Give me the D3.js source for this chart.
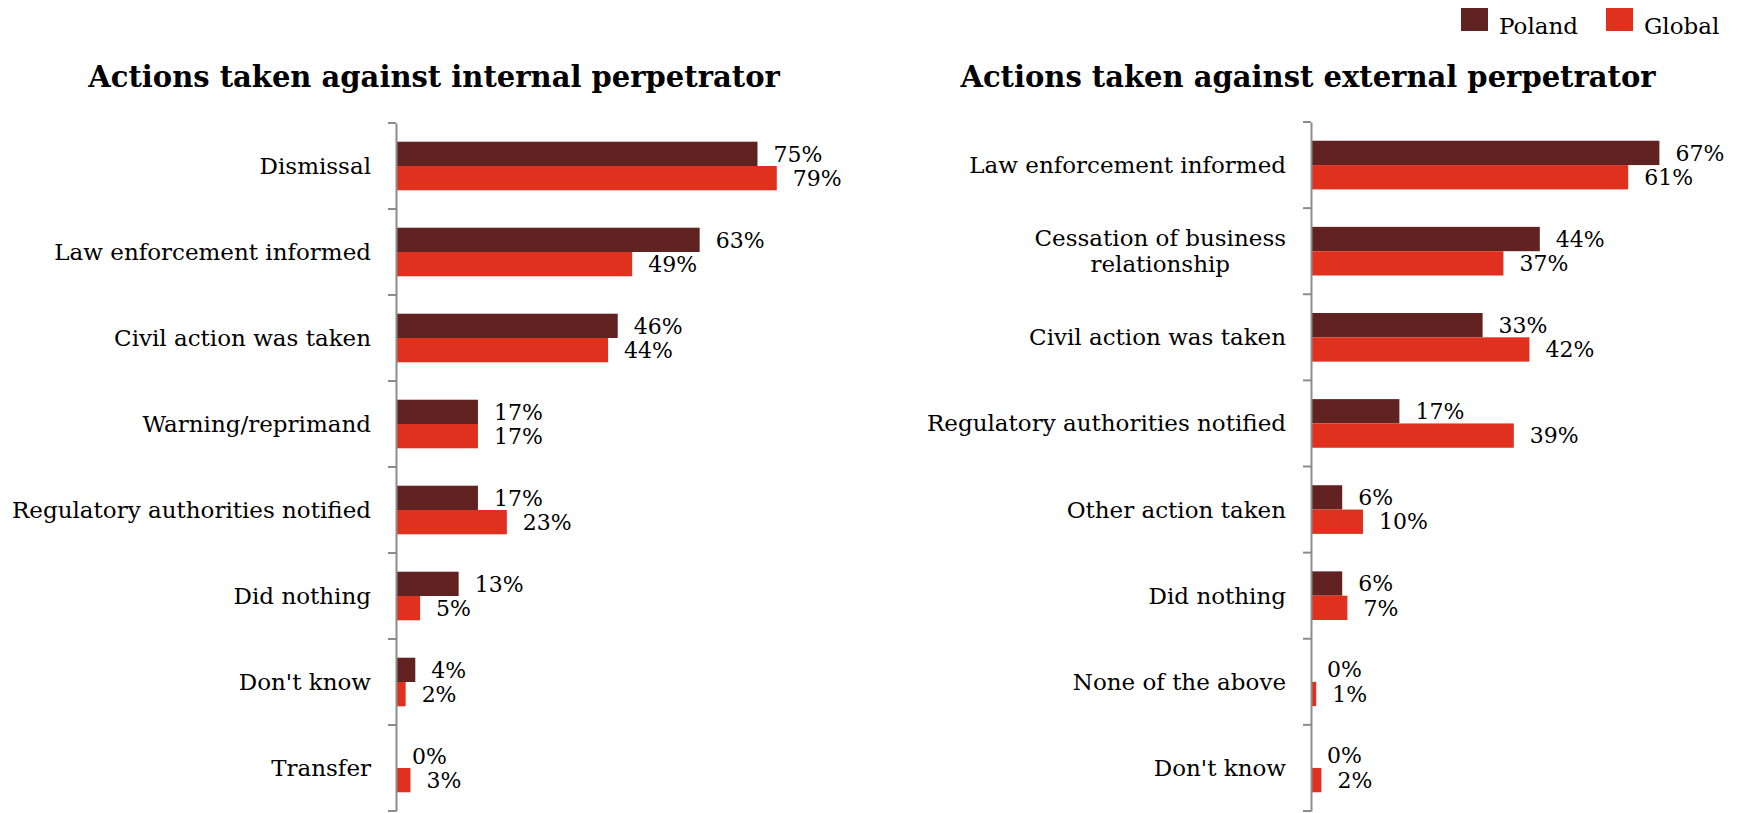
<!DOCTYPE html>
<html>
<head>
<meta charset="utf-8">
<script src="https://cdn.jsdelivr.net/npm/d3@7"></script>
<style>
  body { margin: 0; background: #fff; }
  text { font-family: "DejaVu Serif", Georgia, serif; fill: #000; }
</style>
</head>
<body>
<div id="chart"></div>
<script>
// data
var internalCats = ["Dismissal", "Law enforcement informed", "Civil action was taken", "Warning/reprimand",
    "Regulatory authorities notified", "Did nothing", "Don't know", "Transfer"];
var internalPoland = [75, 63, 46, 17, 17, 13, 4, 0];
var internalGlobal = [79, 49, 44, 17, 23, 5, 2, 3];

var externalCats = ["Law enforcement informed", "Cessation of business\nrelationship", "Civil action was taken",
    "Regulatory authorities notified", "Other action taken", "Did nothing", "None of the above", "Don't know"];
var externalPoland = [67, 44, 33, 17, 6, 6, 0, 0];
var externalGlobal = [61, 37, 42, 39, 10, 7, 1, 2];

var seriesNames = ["Poland", "Global"];
var colors = ["#612321", "#e0311f"];

var W = 1740, H = 813;

var svg = d3.select("#chart")
  .append("svg")
    .attr("width", W)
    .attr("height", H);

svg.append("rect").attr("width", W).attr("height", H).attr("fill", "#fff");

var color = d3.scaleOrdinal().domain(seriesNames).range(colors);

// one panel = title + category axis + grouped bars
function drawPanel(opts) {
    var g = svg.append("g");

    var rows = opts.cats.map(function(c, i) {
        return {cat: c, Poland: opts.poland[i], Global: opts.global[i]};
    });

    var y = d3.scaleBand()
        .domain(opts.cats)
        .range([opts.top, opts.bottom]);

    var sub = d3.scaleBand()
        .domain(seriesNames)
        .range([0, y.bandwidth()])
        .paddingOuter(0.77);

    var x = d3.scaleLinear()
        .domain([0, 100])
        .range([opts.left, opts.left + opts.width100]);

    // title
    g.append("text")
        .attr("x", opts.titleX)
        .attr("y", 87)
        .attr("text-anchor", "middle")
        .style("font-size", "29px")
        .style("font-weight", "bold")
        .text(opts.title);

    // bars
    var grp = g.selectAll(".row")
        .data(rows)
        .enter().append("g")
        .attr("transform", function(d) { return "translate(0," + y(d.cat) + ")"; });

    grp.selectAll("rect")
        .data(function(d) { return seriesNames.map(function(k) { return {key: k, value: d[k]}; }); })
        .enter().append("rect")
            .attr("x", x(0))
            .attr("y", function(d) { return sub(d.key); })
            .attr("width", function(d) { return x(d.value) - x(0); })
            .attr("height", sub.bandwidth())
            .attr("fill", function(d) { return color(d.key); });

    grp.selectAll(".val")
        .data(function(d) { return seriesNames.map(function(k) { return {key: k, value: d[k]}; }); })
        .enter().append("text")
            .attr("class", "val")
            .attr("x", function(d) { return x(d.value) + 16; })
            .attr("y", function(d) { return sub(d.key) + sub.bandwidth() / 2; })
            .attr("dy", "0.35em")
            .style("font-size", "22px")
            .text(function(d) { return d.value + "%"; });

    // axis line with outward ticks at the band edges
    var axis = d3.axisLeft(y).tickSize(0).tickFormat("");
    g.append("g")
        .attr("transform", "translate(" + opts.left + ",0)")
        .call(axis)
        .call(function(s) { s.select(".domain").attr("stroke", "#8c8c8c").attr("stroke-width", 2); });

    var edges = d3.range(opts.cats.length + 1).map(function(i) { return opts.top + i * y.step(); });
    g.selectAll(".edge")
        .data(edges)
        .enter().append("line")
            .attr("x1", opts.left - 8).attr("x2", opts.left)
            .attr("y1", function(d) { return d; }).attr("y2", function(d) { return d; })
            .attr("stroke", "#8c8c8c")
            .attr("stroke-width", 2);

    // category labels (wrapped lines centred inside a right-aligned block)
    var lab = g.selectAll(".cat")
        .data(opts.cats)
        .enter().append("text")
            .attr("class", "cat")
            .style("font-size", "23px")
            .attr("text-anchor", "middle");

    lab.each(function(c) {
        var t = d3.select(this);
        var lines = c.split("\n");
        var lh = 26.5;
        lines.forEach(function(line, j) {
            t.append("tspan")
                .attr("y", y(c) + y.bandwidth() / 2 + (j - (lines.length - 1) / 2) * lh)
                .attr("dy", "0.35em")
                .text(line);
        });
        var maxW = 0;
        t.selectAll("tspan").each(function() { maxW = Math.max(maxW, this.getComputedTextLength()); });
        t.selectAll("tspan").attr("x", opts.left - 25 - maxW / 2);
    });
}

drawPanel({
    title: "Actions taken against internal perpetrator",
    titleX: 434,
    cats: internalCats, poland: internalPoland, global: internalGlobal,
    left: 396, width100: 482, top: 123, bottom: 811
});

drawPanel({
    title: "Actions taken against external perpetrator",
    titleX: 1308,
    cats: externalCats, poland: externalPoland, global: externalGlobal,
    left: 1311, width100: 520, top: 122, bottom: 811
});

// legend
var legX = [1461, 1606];
var leg = svg.selectAll(".leg")
    .data(seriesNames)
    .enter().append("g")
    .attr("transform", function(d, i) { return "translate(" + legX[i] + ",8)"; });

leg.append("rect")
    .attr("width", 27)
    .attr("height", 23)
    .attr("fill", function(d) { return color(d); });

leg.append("text")
    .attr("x", 38)
    .attr("y", 26)
    .style("font-size", "23px")
    .text(function(d) { return d; });
</script>
</body>
</html>
